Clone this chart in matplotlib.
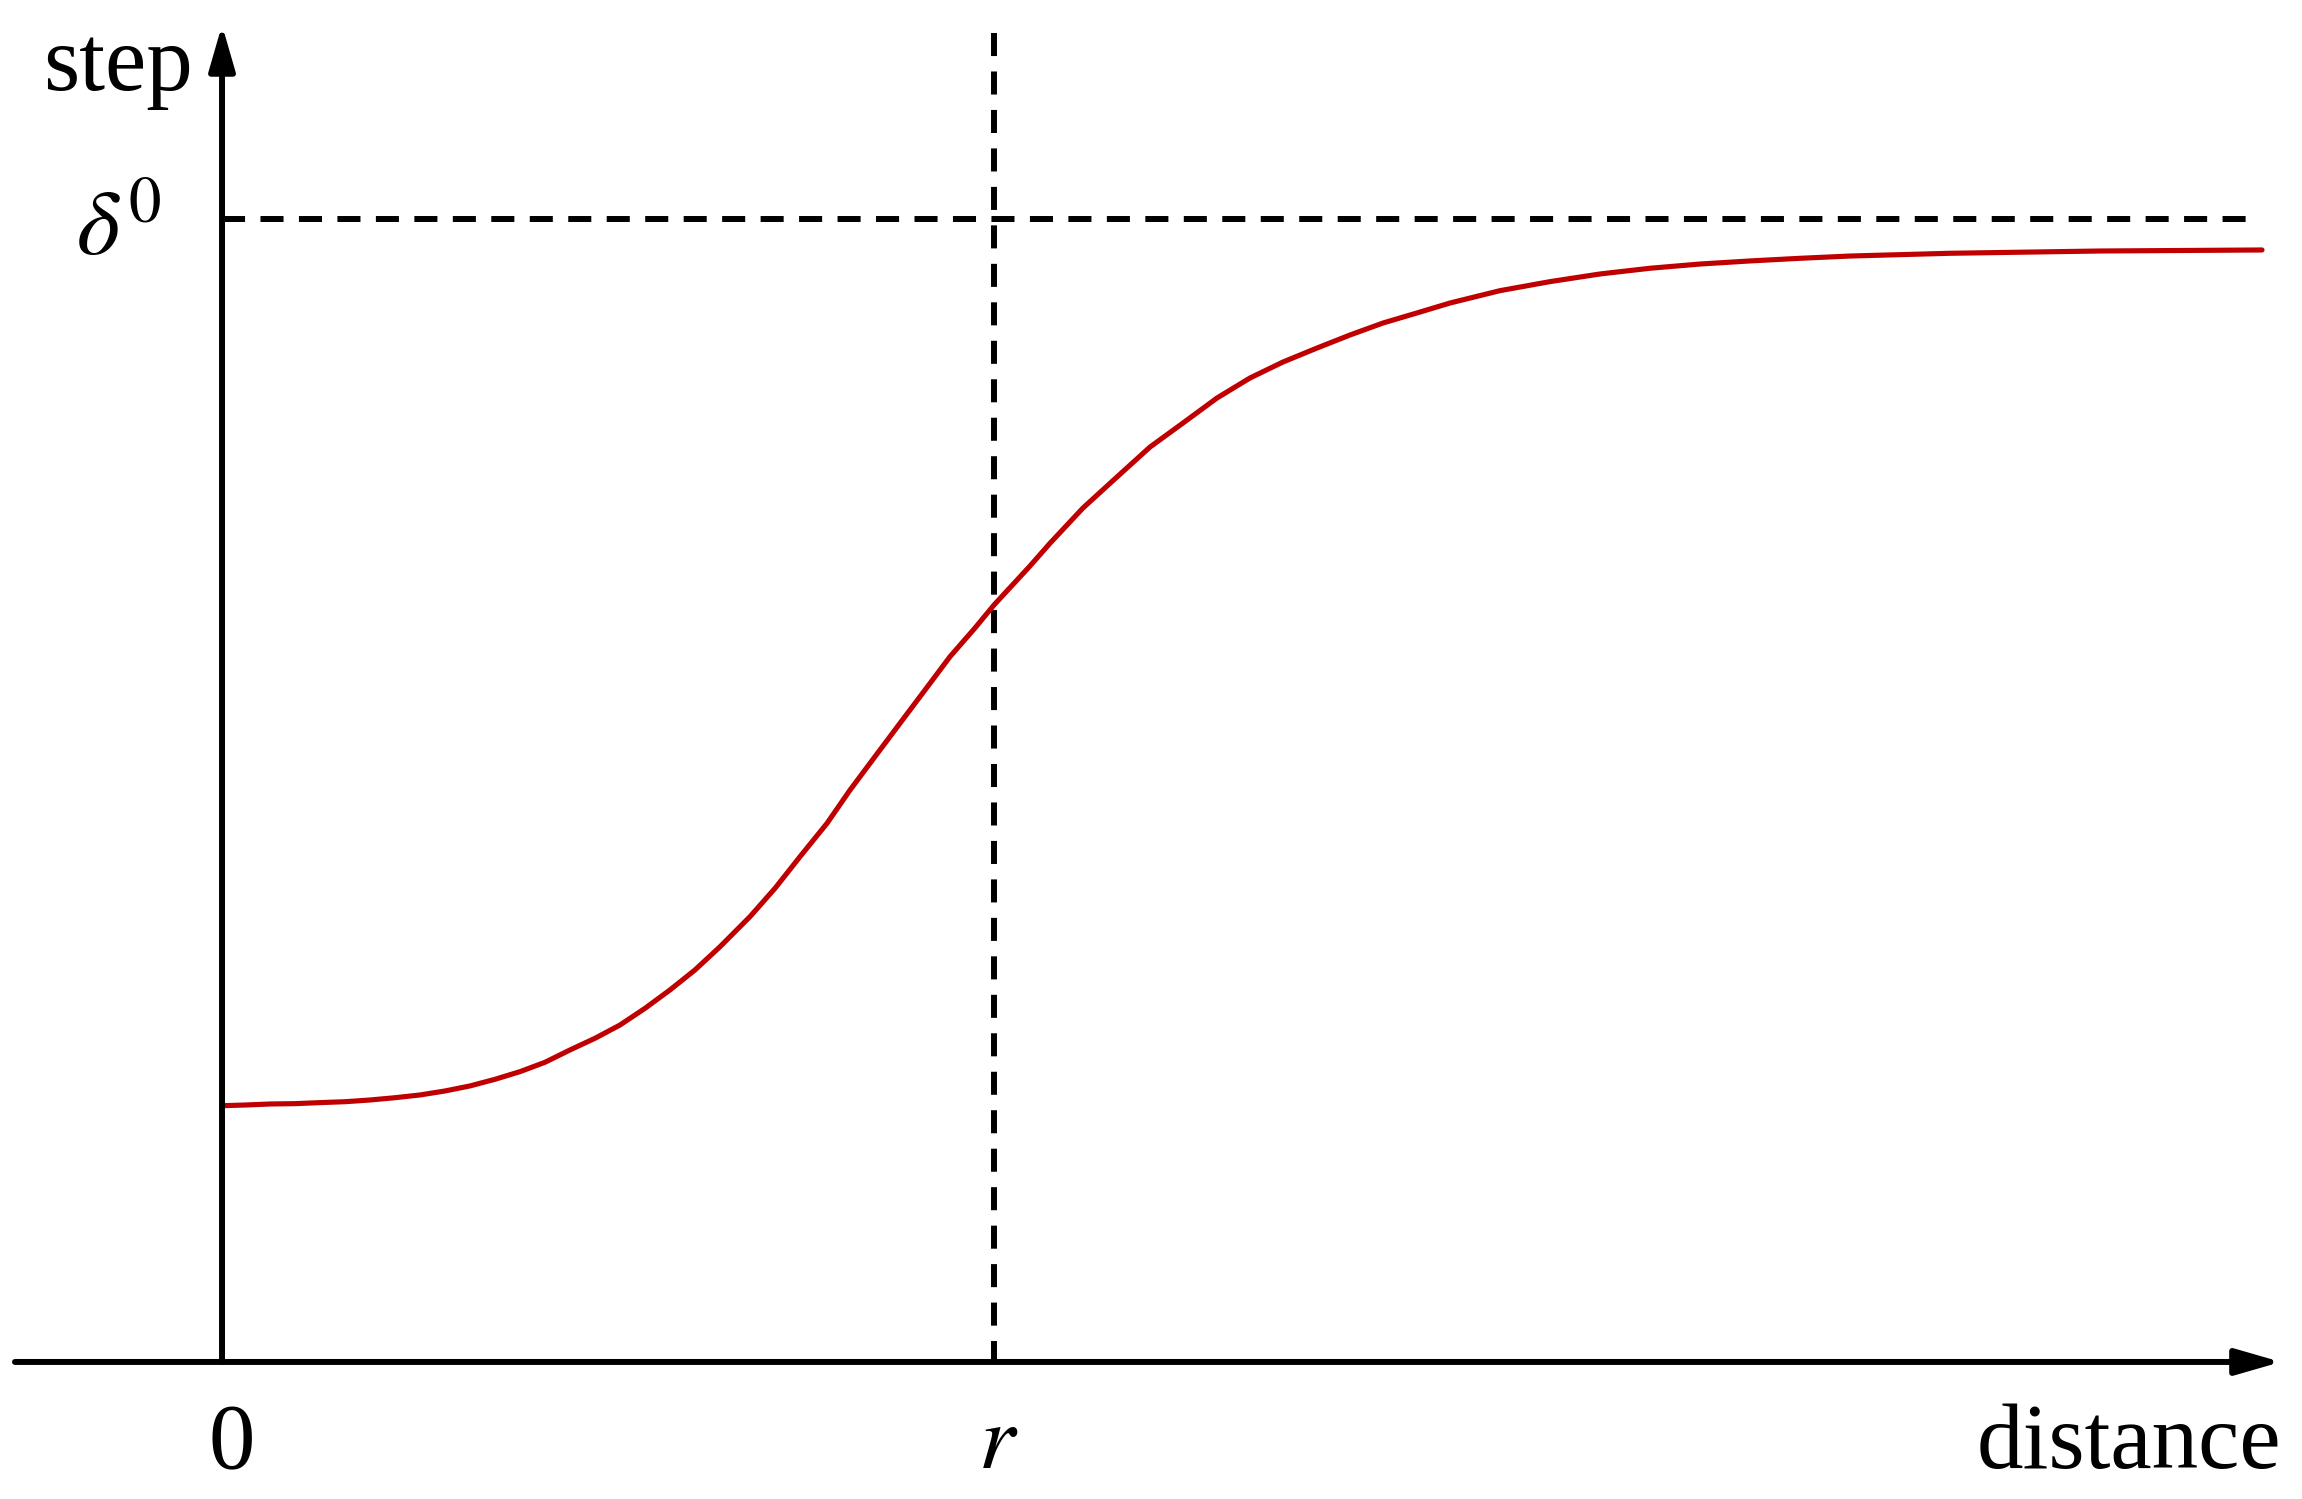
import matplotlib
matplotlib.use('Agg')
import matplotlib.pyplot as plt

# Curve: distance in units of r, step in units of delta^0
distance = [0.0000, 0.0298, 0.0622, 0.0946, 0.1269, 0.1593, 0.1917, 0.2241,
            0.2565, 0.2889, 0.3212, 0.3536, 0.3860, 0.4184, 0.4508, 0.4832,
            0.5155, 0.5479, 0.5803, 0.6127, 0.6451, 0.6839, 0.7163, 0.7487,
            0.7837, 0.8135, 0.8458, 0.8782, 0.9106, 0.9430, 0.9754, 1.0000,
            1.0466, 1.0725, 1.1153, 1.1593, 1.2021, 1.2448, 1.2889, 1.3316,
            1.3744, 1.4184, 1.4611, 1.5039, 1.5479, 1.5907, 1.6554, 1.7202,
            1.7850, 1.8497, 1.9145, 1.9793, 2.0440, 2.1088, 2.1736, 2.2383,
            2.4326, 2.6425]
step = [0.2242, 0.2248, 0.2257, 0.2260, 0.2269, 0.2277, 0.2292, 0.2312,
        0.2336, 0.2371, 0.2415, 0.2473, 0.2540, 0.2622, 0.2730, 0.2832,
        0.2948, 0.3094, 0.3255, 0.3430, 0.3633, 0.3896, 0.4144, 0.4421,
        0.4713, 0.5004, 0.5296, 0.5588, 0.5879, 0.6171, 0.6422, 0.6623,
        0.6964, 0.7163, 0.7472, 0.7743, 0.8005, 0.8215, 0.8434, 0.8609,
        0.8749, 0.8871, 0.8985, 0.9090, 0.9178, 0.9265, 0.9373, 0.9452,
        0.9519, 0.9569, 0.9606, 0.9633, 0.9656, 0.9676, 0.9688, 0.9700,
        0.9720, 0.9729]

r_value = 1.0
delta0 = 1.0
x_labels = ['0', '$r$', 'distance']
y_labels = ['step', r'$\delta^0$']

plt.rcParams['font.family'] = ['Liberation Serif', 'DejaVu Serif']
plt.rcParams['mathtext.fontset'] = 'stix'
plt.rcParams['lines.scale_dashes'] = False

fig = plt.figure(figsize=(23.02, 14.99), dpi=100)
ax = fig.add_axes([0, 0, 1, 1])
ax.set_xlim(-0.2876, 2.6943)
ax.set_ylim(-0.1199, 1.1916)
ax.axis('off')

lw_axis = 4.3
dash = (0, (16.6, 11.1))

# axes with arrow heads
arrow = dict(arrowstyle='-|>,head_length=27.4,head_width=7.9', lw=lw_axis,
             color='black', shrinkA=0, shrinkB=0, mutation_scale=1)
ax.annotate('', xy=(2.6671, 0), xytext=(-0.2682, 0), arrowprops=arrow)
ax.annotate('', xy=(0, 1.1698), xytext=(0, 0), arrowprops=arrow)

# reference lines
ax.plot([0, 2.6218], [delta0, delta0], color='black', lw=lw_axis, linestyle=dash)
ax.plot([r_value, r_value], [1.1627, 0], color='black', lw=lw_axis, linestyle=dash)

# curve
ax.plot(distance, step, color='#C00000', lw=3.7, solid_capstyle='round',
        solid_joinstyle='round')

fs = 67
ax.text(-0.2319, 1.1129, y_labels[0], fontsize=fs, ha='left', va='baseline')
ax.text(-0.1891, 0.9680, y_labels[1], fontsize=fs, ha='left', va='baseline')
ax.text(0.0130, -0.0927, x_labels[0], fontsize=fs, ha='center', va='baseline')
ax.text(r_value + 0.005, -0.0927, x_labels[1], fontsize=fs, ha='center', va='baseline')
ax.text(2.6671, -0.0927, x_labels[2], fontsize=fs, ha='right', va='baseline')

fig.savefig('out.png', dpi=100)
